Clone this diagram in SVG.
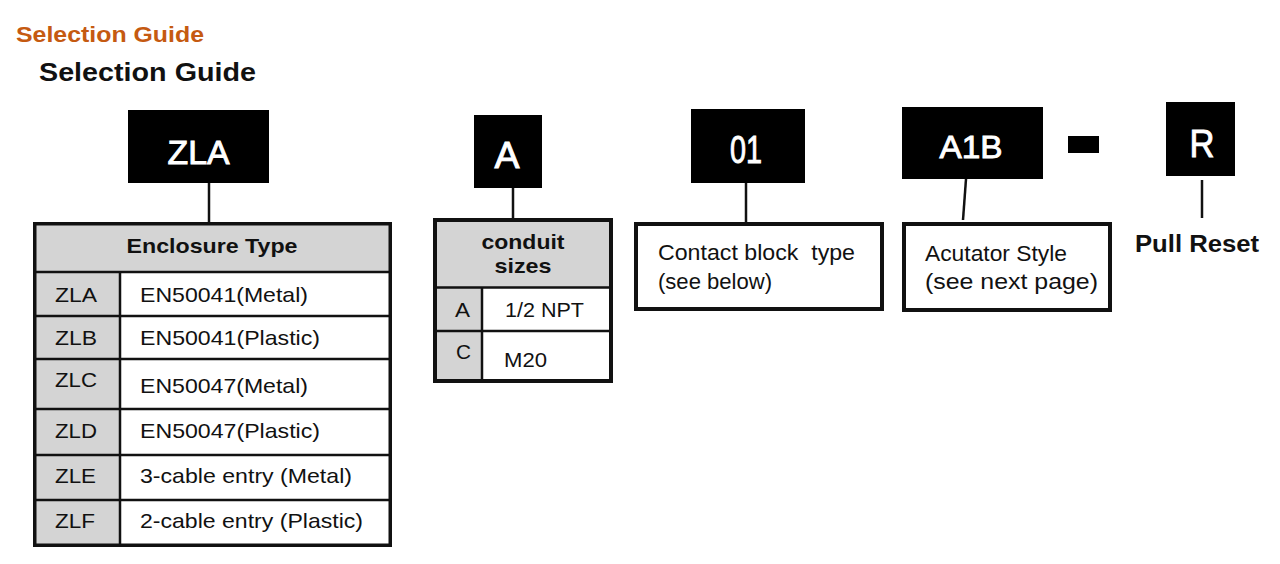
<svg xmlns="http://www.w3.org/2000/svg" width="1280" height="564" viewBox="0 0 1280 564">
<style>
  text { font-family: "Liberation Sans", Arial, sans-serif; fill: #111; }
  .t { font-size: 21px; }
  .t2 { font-size: 22px; }
  .b { font-weight: bold; }
  .code { fill: #fff; stroke: #fff; stroke-width: 0.9; text-anchor: middle; }
  .blk { fill: #000; }
  .gray { fill: #d4d4d4; }
  .frame { fill: none; stroke: #111; stroke-width: 3.5; }
  .box { fill: #fff; stroke: #111; stroke-width: 4; }
  .grid { stroke: #111; stroke-width: 2.5; fill: none; }
  .conn line { stroke: #111; stroke-width: 2.5; }
</style>
<rect width="1280" height="564" fill="#fff"/>

<g id="titles">
  <text x="16" y="42" class="b" font-size="22" style="fill:#c55a11" textLength="188" lengthAdjust="spacingAndGlyphs">Selection Guide</text>
  <text x="39" y="81" class="b" font-size="25" textLength="217" lengthAdjust="spacingAndGlyphs">Selection Guide</text>
</g>

<g class="conn" id="connectors">
  <line x1="209" y1="183" x2="209" y2="222"/>
  <line x1="513" y1="187" x2="513" y2="218"/>
  <line x1="746" y1="182" x2="746" y2="223"/>
  <line x1="966" y1="179" x2="963" y2="220"/>
  <line x1="1202" y1="180" x2="1202" y2="218"/>
</g>

<g id="code-ZLA">
  <rect class="blk" x="128" y="110" width="141" height="73"/>
  <text class="code" x="198.5" y="164" font-size="33" textLength="62" lengthAdjust="spacingAndGlyphs">ZLA</text>
</g>

<g id="code-A">
  <rect class="blk" x="474" y="115" width="68" height="73"/>
  <text class="code" x="507" y="168" font-size="36" textLength="25" lengthAdjust="spacingAndGlyphs">A</text>
</g>

<g id="code-01">
  <rect class="blk" x="691" y="109" width="114" height="74"/>
  <text class="code" x="746" y="163" font-size="38" textLength="32" lengthAdjust="spacingAndGlyphs">01</text>
</g>

<g id="code-A1B">
  <rect class="blk" x="902" y="107" width="141" height="72"/>
  <text class="code" x="971" y="158" font-size="32" textLength="63" lengthAdjust="spacingAndGlyphs">A1B</text>
</g>

<g id="dash">
  <rect class="blk" x="1068" y="136" width="31" height="17"/>
</g>

<g id="code-R">
  <rect class="blk" x="1166" y="102" width="69" height="74"/>
  <text class="code" x="1202" y="157" font-size="38" textLength="25" lengthAdjust="spacingAndGlyphs">R</text>
</g>

<g id="enclosure-table">
  <rect class="gray" x="34" y="223" width="357" height="323"/>
  <rect fill="#fff" x="120" y="272" width="271" height="274"/>
  <line class="grid" x1="34" y1="272" x2="391" y2="272"/>
  <line class="grid" x1="34" y1="316" x2="391" y2="316"/>
  <line class="grid" x1="34" y1="359" x2="391" y2="359"/>
  <line class="grid" x1="34" y1="409" x2="391" y2="409"/>
  <line class="grid" x1="34" y1="455" x2="391" y2="455"/>
  <line class="grid" x1="34" y1="500" x2="391" y2="500"/>
  <line class="grid" x1="120" y1="272" x2="120" y2="546"/>
  <rect class="frame" x="34.75" y="223.75" width="355.5" height="321.5"/>
  <text x="212" y="253" class="t b" text-anchor="middle" textLength="171" lengthAdjust="spacingAndGlyphs">Enclosure Type</text>
  <text x="55" y="302" class="t" textLength="42" lengthAdjust="spacingAndGlyphs">ZLA</text>
  <text x="140" y="302" class="t" textLength="168" lengthAdjust="spacingAndGlyphs">EN50041(Metal)</text>
  <text x="55" y="345" class="t" textLength="42" lengthAdjust="spacingAndGlyphs">ZLB</text>
  <text x="140" y="345" class="t" textLength="180" lengthAdjust="spacingAndGlyphs">EN50041(Plastic)</text>
  <text x="55" y="387" class="t" textLength="42" lengthAdjust="spacingAndGlyphs">ZLC</text>
  <text x="140" y="393" class="t" textLength="168" lengthAdjust="spacingAndGlyphs">EN50047(Metal)</text>
  <text x="55" y="438" class="t" textLength="42" lengthAdjust="spacingAndGlyphs">ZLD</text>
  <text x="140" y="438" class="t" textLength="180" lengthAdjust="spacingAndGlyphs">EN50047(Plastic)</text>
  <text x="55" y="483" class="t" textLength="41" lengthAdjust="spacingAndGlyphs">ZLE</text>
  <text x="140" y="483" class="t" textLength="212" lengthAdjust="spacingAndGlyphs">3-cable entry (Metal)</text>
  <text x="55" y="528" class="t" textLength="40" lengthAdjust="spacingAndGlyphs">ZLF</text>
  <text x="140" y="528" class="t" textLength="223" lengthAdjust="spacingAndGlyphs">2-cable entry (Plastic)</text>
</g>

<g id="conduit-table">
  <rect class="gray" x="435" y="220" width="176" height="161"/>
  <rect fill="#fff" x="482" y="288" width="129" height="93"/>
  <line class="grid" x1="435" y1="287.5" x2="611" y2="287.5"/>
  <line class="grid" x1="435" y1="331" x2="611" y2="331"/>
  <line class="grid" x1="482" y1="287.5" x2="482" y2="381"/>
  <rect class="box" style="fill:none" x="435" y="220" width="176" height="161"/>
  <text x="523" y="249" class="t b" text-anchor="middle" textLength="83" lengthAdjust="spacingAndGlyphs">conduit</text>
  <text x="523" y="273" class="t b" text-anchor="middle" textLength="57" lengthAdjust="spacingAndGlyphs">sizes</text>
  <text x="455" y="317" class="t" textLength="15" lengthAdjust="spacingAndGlyphs">A</text>
  <text x="505" y="317" class="t" textLength="79" lengthAdjust="spacingAndGlyphs">1/2 NPT</text>
  <text x="456" y="359" class="t" textLength="15" lengthAdjust="spacingAndGlyphs">C</text>
  <text x="504" y="367" class="t" textLength="43" lengthAdjust="spacingAndGlyphs">M20</text>
</g>

<g id="contact-block">
  <rect class="box" x="636" y="224" width="246" height="85"/>
  <text x="658" y="260" class="t2" xml:space="preserve" textLength="197" lengthAdjust="spacingAndGlyphs">Contact block  type</text>
  <text x="658" y="289" class="t2" textLength="114" lengthAdjust="spacingAndGlyphs">(see below)</text>
</g>

<g id="actuator-style">
  <rect class="box" x="904" y="224" width="206" height="86"/>
  <text x="925" y="261" class="t2" textLength="142" lengthAdjust="spacingAndGlyphs">Acutator Style</text>
  <text x="925" y="289" class="t2" textLength="173" lengthAdjust="spacingAndGlyphs">(see next page)</text>
</g>

<g id="pull-reset">
  <text x="1135" y="252" class="b" font-size="23" textLength="124" lengthAdjust="spacingAndGlyphs">Pull Reset</text>
</g>
</svg>
